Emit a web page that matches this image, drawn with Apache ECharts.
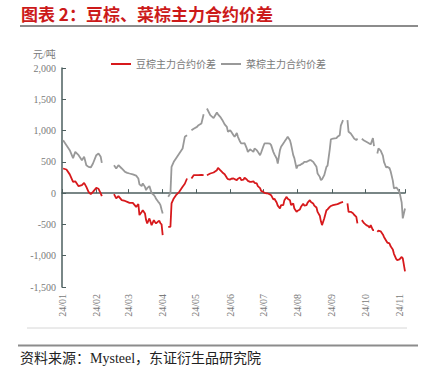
<!DOCTYPE html>
<html>
<head>
<meta charset="utf-8">
<script src="https://cdn.jsdelivr.net/npm/echarts@6/dist/echarts.min.js"></script>
<style>
html,body{margin:0;padding:0;background:#fff;}
#chart{width:430px;height:380px;}
</style>
</head>
<body>
<div id="chart"></div>
<script>
// ---- data ----
const titleText = '图表 2：豆棕、菜棕主力合约价差';
const sourceText = '资料来源：Mysteel，东证衍生品研究院';
const unitText = '元/吨';
const seriesNames = ['豆棕主力合约价差', '菜棕主力合约价差'];

const dates = [
'2024-01-02','2024-01-05','2024-01-08','2024-01-11','2024-01-13','2024-01-16','2024-01-19','2024-01-21','2024-01-23','2024-01-25',
'2024-01-27','2024-01-29','2024-02-01','2024-02-03','2024-02-05','2024-02-06','2024-02-12','2024-02-17','2024-02-19','2024-02-21',
'2024-02-24','2024-02-27','2024-02-29','2024-03-02','2024-03-05','2024-03-08','2024-03-10','2024-03-11','2024-03-13','2024-03-14',
'2024-03-16','2024-03-17','2024-03-18','2024-03-20','2024-03-22','2024-03-24','2024-03-25','2024-03-26','2024-03-28','2024-03-29',
'2024-03-30','2024-03-31','2024-04-01','2024-04-03','2024-04-06','2024-04-08','2024-04-09','2024-04-11','2024-04-13','2024-04-16',
'2024-04-19','2024-04-21','2024-04-23','2024-04-25','2024-04-27','2024-04-29','2024-05-02','2024-05-03','2024-05-06','2024-05-08',
'2024-05-09','2024-05-11','2024-05-14','2024-05-17','2024-05-20','2024-05-21','2024-05-23','2024-05-25','2024-05-27','2024-05-29',
'2024-05-30','2024-06-01','2024-06-02','2024-06-04','2024-06-05','2024-06-07','2024-06-08','2024-06-10','2024-06-11','2024-06-13',
'2024-06-14','2024-06-16','2024-06-17','2024-06-19','2024-06-20','2024-06-22','2024-06-23','2024-06-25','2024-06-26','2024-06-28',
'2024-06-29','2024-07-01','2024-07-02','2024-07-04','2024-07-05','2024-07-07','2024-07-08','2024-07-10','2024-07-11','2024-07-13',
'2024-07-14','2024-07-16','2024-07-17','2024-07-19','2024-07-20','2024-07-22','2024-07-23','2024-07-25','2024-07-26','2024-07-28',
'2024-07-29','2024-07-31','2024-08-01','2024-08-03','2024-08-04','2024-08-06','2024-08-07','2024-08-09','2024-08-10','2024-08-12',
'2024-08-13','2024-08-15','2024-08-16','2024-08-18','2024-08-19','2024-08-21','2024-08-22','2024-08-23','2024-08-25','2024-08-27',
'2024-08-28','2024-08-30','2024-08-31','2024-09-02','2024-09-05','2024-09-06','2024-09-08','2024-09-09','2024-09-11','2024-09-13',
'2024-09-15','2024-09-16','2024-09-18','2024-09-20','2024-09-21','2024-09-23','2024-09-24','2024-09-26','2024-09-28','2024-09-30',
'2024-10-02','2024-10-04','2024-10-05','2024-10-06','2024-10-08','2024-10-09','2024-10-10','2024-10-12','2024-10-13','2024-10-15',
'2024-10-17','2024-10-18','2024-10-20','2024-10-21','2024-10-23','2024-10-24','2024-10-26','2024-10-27','2024-10-29','2024-10-30',
'2024-11-01','2024-11-03','2024-11-04','2024-11-06'
];

// 豆棕主力合约价差
const soyPalmSpread = [
394,378,300,181,190,112,128,165,101,21,
-16,21,85,70,-5,-48,null,-16,-85,-48,
-112,-125,-140,-155,-155,-219,-176,-351,-300,-272,
-325,-430,-484,-404,-511,-431,-460,-484,-450,-442,
-484,-500,-671,null,-538,-538,-165,-85,-32,21,
101,150,234,null,234,287,287,287,290,287,
null,287,314,330,367,405,367,330,303,245,
225,218,230,234,225,208,230,250,208,215,
245,218,197,181,181,190,165,155,112,80,
35,20,5,-5,-5,-20,-32,-100,-90,-150,
-200,-245,-192,-192,-112,-59,-90,-112,-190,-165,
-245,-298,-280,-260,-219,-170,-200,-192,-150,-112,
-140,-165,-200,-230,-300,-360,-450,-511,-404,-272,
-260,-219,-205,-192,-180,-176,-160,-150,-139,null,
-165,-298,-298,-320,-345,-378,-484,null,-431,-480,
-511,-530,-550,-510,-591,-591,null,-618,-600,-610,
-660,-700,-760,-790,-804,-850,-900,-970,-1050,-1070,
-1060,-1020,-1043,-1250
];

// 菜棕主力合约价差
const rapePalmSpread = [
846,767,687,560,660,607,527,580,447,420,
410,474,607,634,580,484,null,447,394,447,
394,340,325,314,300,280,234,140,112,155,
100,48,80,112,0,-30,-53,-90,-139,-160,
-192,-260,-325,null,-59,0,420,500,554,634,
714,900,926,null,1006,1030,1059,1080,1113,1260,
null,1353,1246,1200,1290,1260,1219,1166,1100,1059,
980,1006,980,926,900,960,900,820,794,794,
800,714,660,700,687,660,714,687,660,607,
650,750,794,794,794,790,767,660,620,554,
474,687,740,794,820,873,900,847,780,607,
560,394,440,447,460,480,500,500,510,527,
527,500,474,420,314,260,208,220,287,420,
440,700,860,873,880,900,926,1080,1166,null,
1166,980,953,900,873,847,873,null,870,840,
820,800,790,780,880,751,null,634,714,680,
600,500,410,420,400,350,200,75,90,75,
20,-150,-404,-245
];

const yTicks = {min: -1500, max: 2000, step: 500};
const xRange = {min: '2024-01-01', max: '2024-11-06'};

// ---- chart ----
const pair = (vals) => dates.map((d, i) => [d, vals[i]]);
const monthLabel = (v) => {
  const d = new Date(v);
  return String(d.getFullYear()).slice(2) + '/' + String(d.getMonth() + 1).padStart(2, '0');
};
const axisColor = '#4d5f5f';
const labelColor = '#7a7a7a';
const serif = "'Liberation Serif', 'Noto Sans CJK SC', serif";
const MONTH = 86400000 * 30;

const chart = echarts.init(document.getElementById('chart'), null, {renderer: 'svg'});
chart.setOption({
  animation: false,
  backgroundColor: '#ffffff',
  grid: {left: 62, right: 25, top: 68, bottom: 93},
  legend: {
    data: seriesNames,
    left: 106, top: 54,
    icon: 'rect', itemWidth: 20, itemHeight: 2, itemGap: 5,
    textStyle: {color: labelColor, fontSize: 10, fontFamily: serif}
  },
  xAxis: [{
    type: 'time',
    min: xRange.min, max: xRange.max,
    splitNumber: 11, minInterval: MONTH * 0.9, maxInterval: MONTH * 1.1,
    axisLine: {onZero: true, lineStyle: {color: axisColor, width: 1.5}},
    axisTick: {show: true, inside: true, length: 4, lineStyle: {color: axisColor, width: 1}},
    axisLabel: {show: false},
    splitLine: {show: false}
  }, {
    type: 'time',
    position: 'bottom',
    min: xRange.min, max: xRange.max,
    splitNumber: 11, minInterval: MONTH * 0.9, maxInterval: MONTH * 1.1,
    axisLine: {show: false, onZero: false},
    axisTick: {show: false},
    splitLine: {show: false},
    axisLabel: {
      rotate: 90, margin: 7, color: labelColor, fontSize: 10, fontFamily: serif,
      formatter: monthLabel, hideOverlap: false
    }
  }],
  yAxis: {
    type: 'value',
    min: yTicks.min, max: yTicks.max, interval: yTicks.step,
    axisLine: {show: true, lineStyle: {color: axisColor, width: 1.5}},
    axisTick: {show: true, inside: true, length: 4, lineStyle: {color: axisColor}},
    axisLabel: {
      color: labelColor, fontSize: 10, fontFamily: serif, margin: 6,
      formatter: (v) => v.toLocaleString('en-US')
    },
    splitLine: {show: false}
  },
  series: [{
    name: seriesNames[0], type: 'line', xAxisIndex: 0,
    data: pair(soyPalmSpread), showSymbol: false, connectNulls: false,
    lineStyle: {color: '#d7191c', width: 1.8}, itemStyle: {color: '#d7191c'}, z: 3
  }, {
    name: seriesNames[1], type: 'line', xAxisIndex: 0,
    data: pair(rapePalmSpread), showSymbol: false, connectNulls: false,
    lineStyle: {color: '#999999', width: 1.8}, itemStyle: {color: '#999999'}, z: 2
  }],
  graphic: [
    {type: 'text', left: 21, top: 5, style: {text: titleText, fill: '#cc1a1a', font: "bold 17px 'Noto Sans CJK SC', sans-serif"}},
    {type: 'line', shape: {x1: 20, y1: 26, x2: 418, y2: 26}, style: {stroke: '#8c8c8c', lineWidth: 2}},
    {type: 'text', left: 33, top: 49, style: {text: unitText, fill: labelColor, font: "10px " + serif}},
    {type: 'line', shape: {x1: 27, y1: 328, x2: 407, y2: 328}, style: {stroke: '#d6d6d6', lineWidth: 1}},
    {type: 'line', shape: {x1: 18, y1: 345.5, x2: 418, y2: 345.5}, style: {stroke: '#8c8c8c', lineWidth: 2}},
    {type: 'text', left: 20, top: 351, style: {text: sourceText, fill: '#222', font: "14px " + serif}}
  ]
});
</script>
</body>
</html>
